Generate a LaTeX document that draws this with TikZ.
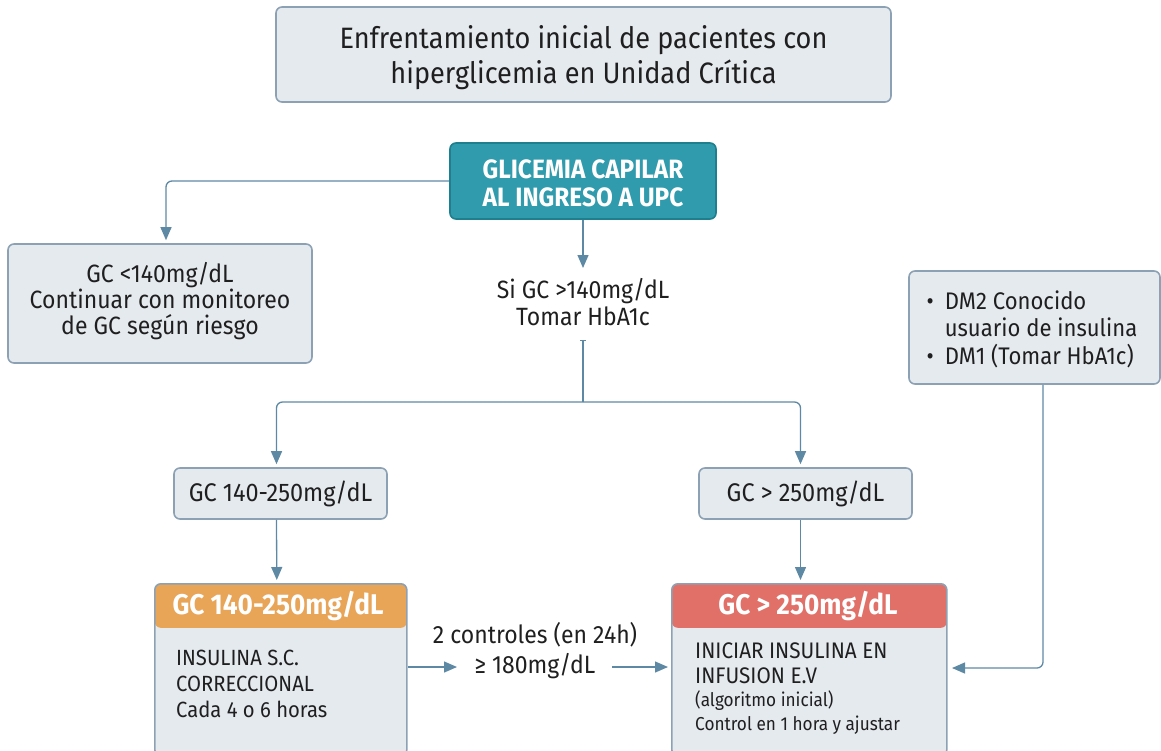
\documentclass[tikz,border=0pt]{standalone}
\usepackage{fontspec}
\setmainfont[FakeStretch=0.92]{Fira Sans}
\usetikzlibrary{arrows.meta}
\definecolor{boxfill}{HTML}{E5EAEF}
\definecolor{boxline}{HTML}{8CA2B4}
\definecolor{tealc}{HTML}{2F9BAC}
\definecolor{tealline}{HTML}{1E7F8E}
\definecolor{arrc}{HTML}{5E89A4}
\definecolor{orangeh}{HTML}{E8A457}
\definecolor{redh}{HTML}{E07068}
\definecolor{txt}{HTML}{1F1F1F}
\begin{document}
\begin{tikzpicture}[x=1pt,y=-1pt,
  box/.style={draw=boxline, line width=1.6pt, fill=boxfill, rounded corners=6pt, text=txt, align=center, inner sep=0pt},
  arr/.style={draw=arrc, line width=1.3pt, -{Triangle[length=13pt,width=11pt]}, rounded corners=6pt, shorten >=3pt},
  plain/.style={text=txt, inner sep=0pt},
  body/.style={font=\fontsize{22}{26}\selectfont},
]
\useasboundingbox (0,0) rectangle (1161,750);

\node[box, minimum width=615pt, minimum height=95pt] (title) at (583.5,54.5) {};
\node[plain, align=center, font=\fontsize{29.5}{35}\selectfont] (titletext) at (583.5,57.5)
  {Enfrentamiento inicial de pacientes con\\hiperglicemia en Unidad Crítica};

\node[box, fill=tealc, draw=tealline, text=white, minimum width=266pt, minimum height=76pt] (glic) at (583,181) {};
\node[plain, text=white, align=center, font=\bfseries\fontsize{26.5}{28}\selectfont] (glictext) at (583,183)
  {GLICEMIA CAPILAR\\AL INGRESO A UPC};

\node[box, minimum width=304pt, minimum height=119pt] (left) at (160,303.5) {};
\node[plain, align=center, font=\fontsize{25}{26}\selectfont] (lefttext) at (160,301)
  {GC <140mg/dL\\Continuar con monitoreo\\de GC según riesgo};

\node[plain, align=center, font=\fontsize{25}{27}\selectfont] (sig) at (583,302)
  {Si GC >140mg/dL\\Tomar HbA1c};

\node[box, minimum width=251pt, minimum height=113pt] (dm) at (1034.5,327.5) {};
\node[plain, align=left, font=\fontsize{24}{27}\selectfont] (dmtext) at (1032,331.5)
  {\begin{tabular}{@{}l@{\hspace{11pt}}l@{}}•&DM2 Conocido\\&usuario de insulina\\•&DM1 (Tomar HbA1c)\end{tabular}};

\node[box, minimum width=213pt, minimum height=51pt, font=\fontsize{25.5}{26}\selectfont] (b1) at (280.5,493.5) {GC 140-250mg/dL};
\node[box, minimum width=213pt, minimum height=51pt, font=\fontsize{25.5}{26}\selectfont] (b2) at (805.5,493.5) {GC > 250mg/dL};

\node[box, anchor=north west, minimum width=252pt, minimum height=172pt,
  path picture={\fill[orangeh] (path picture bounding box.north west) rectangle ([yshift=-44pt]path picture bounding box.north east);}] (bl) at (154,583) {};
\node[box, anchor=north west, minimum width=275pt, minimum height=172pt,
  path picture={\fill[redh] (path picture bounding box.north west) rectangle ([yshift=-44pt]path picture bounding box.north east);}] (br) at (671,583) {};

\node[plain, text=white, font=\bfseries\fontsize{28.5}{30}\selectfont] (blh) at (278,606.5) {GC 140-250mg/dL};
\node[plain, text=white, font=\bfseries\fontsize{28.5}{30}\selectfont] (brh) at (808,606.5) {GC > 250mg/dL};

\node[plain, body, anchor=mid west] (bl1) at (176,663) {INSULINA S.C.};
\node[plain, body, anchor=mid west] (bl2) at (176,689) {CORRECCIONAL};
\node[plain, body, anchor=mid west] (bl3) at (176,715) {Cada 4 o 6 horas};

\node[plain, font=\fontsize{22.5}{26}\selectfont, anchor=mid west] (br1) at (695,656) {INICIAR INSULINA EN};
\node[plain, font=\fontsize{22.5}{26}\selectfont, anchor=mid west] (br2) at (695,681) {INFUSION E.V};
\node[plain, font=\fontsize{18.7}{22}\selectfont, anchor=mid west] (br3) at (695,704) {(algoritmo inicial)};
\node[plain, font=\fontsize{18.7}{22}\selectfont, anchor=mid west] (br4) at (695,728) {Control en 1 hora y ajustar};

\node[plain, align=center, font=\fontsize{25}{30}\selectfont] (mid) at (535,650.5)
  {2 controles (en 24h)\\≥ 180mg/dL};

\coordinate (split) at (583,402);
\coordinate (tick) at (583,340);
\coordinate (a1) at (457,667);
\coordinate (a2) at (612,667);
\coordinate (dmin) at (952,668);

% connectors
\draw[arr] (glic.west) -| ([xshift=6pt]left.north);
\draw[arr, shorten >=0pt] (glic.south) -- (583,268);
\draw[draw=arrc, line width=1.3pt, {Bar[width=6pt,line width=1pt]}-] (tick) -- (split);
\draw[arr] (split) -| ([xshift=-4pt]b1.north);
\draw[arr] (split) -| ([xshift=-5pt]b2.north);
\draw[arr] ([xshift=-4pt]b1.south) -- ([xshift=-4pt]bl.north);
\draw[arr] ([xshift=-5pt]b2.south) -- ([xshift=-5pt]b2.south |- br.north);
\draw[arr, shorten >=0pt] (bl.east |- a1) -- (a1);
\draw[arr] (a2) -- (br.west |- a2);
\draw[arr, shorten >=0pt] ([xshift=8.5pt]dm.south) |- (dmin);
\end{tikzpicture}
\end{document}
